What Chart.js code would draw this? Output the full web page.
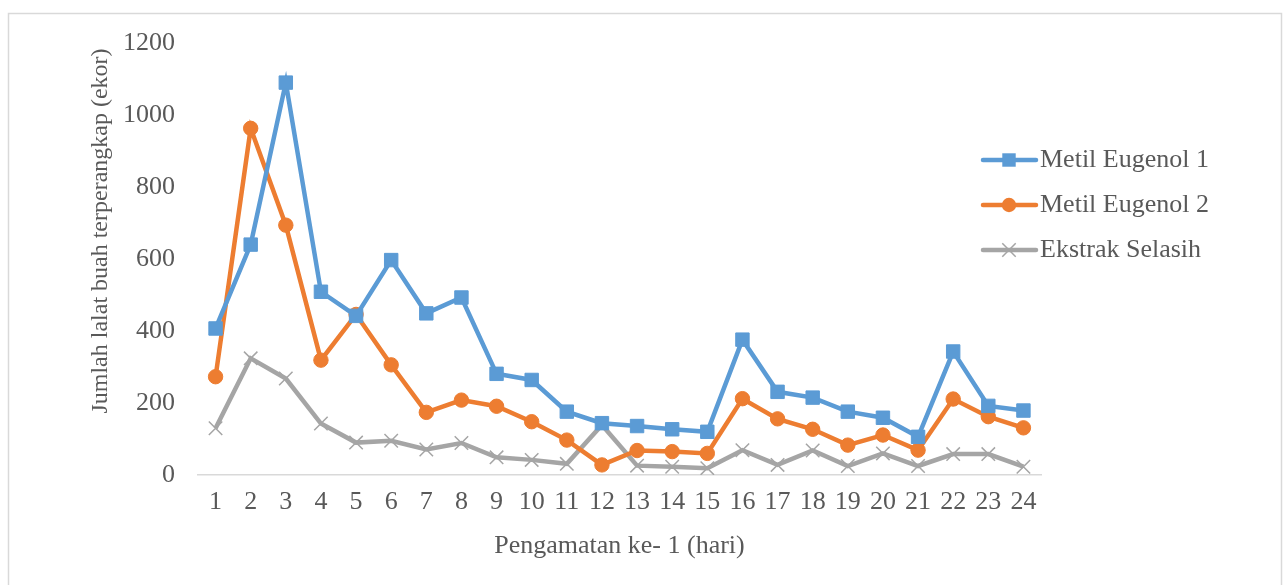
<!DOCTYPE html>
<html>
<head>
<meta charset="utf-8">
<script src="https://cdn.jsdelivr.net/npm/chart.js@4.4.1/dist/chart.umd.min.js"></script>
<style>
html,body{margin:0;padding:0;background:#fff;}
#wrap{width:1285px;height:585px;position:relative;}
</style>
</head>
<body>
<div id="wrap"><canvas id="c" width="1285" height="585"></canvas></div>
<script>
const categories = ['1','2','3','4','5','6','7','8','9','10','11','12','13','14','15','16','17','18','19','20','21','22','23','24'];
const metilEugenol1 = [407,640,1090,509,442,597,449,493,281,264,176,144,136,127,120,376,231,215,176,159,106,343,192,179];
const metilEugenol2 = [273,963,694,319,446,306,174,208,191,148,97,28,68,65,60,212,156,127,83,111,69,211,162,131];
const ekstrakSelasih = [130,324,268,143,90,95,71,89,49,42,31,139,26,23,19,69,28,68,25,60,25,58,58,23];
const yTicks = [0,200,400,600,800,1000,1200];
const seriesNames = ['Metil Eugenol 1','Metil Eugenol 2','Ekstrak Selasih'];
const xTitle = 'Pengamatan ke- 1 (hari)';
const yTitle = 'Jumlah lalat buah terperangkap (ekor)';

const FONT = 'Liberation Serif, "Times New Roman", serif';
const TXT = '#595959';

const borderPlugin = {
  id: 'outerBorder',
  beforeDraw(chart) {
    const ctx = chart.ctx;
    ctx.save();
    ctx.fillStyle = '#fff';
    ctx.fillRect(0,0,chart.width,chart.height);
    ctx.strokeStyle = '#d9d9d9';
    ctx.lineWidth = 1.5;
    ctx.strokeRect(8.5, 13.5, 1273, 600);
    ctx.restore();
  }
};

const yTitlePlugin = {
  id: 'yTitle',
  afterDraw(chart) {
    const ctx = chart.ctx;
    ctx.save();
    ctx.translate(101, 231);
    ctx.rotate(-Math.PI / 2);
    ctx.fillStyle = TXT;
    ctx.font = '24px ' + FONT;
    ctx.textAlign = 'center';
    ctx.textBaseline = 'middle';
    ctx.fillText(yTitle, 0, 0);
    ctx.restore();
  }
};

const legendPlugin = {
  id: 'customLegend',
  afterDraw(chart) {
    const ctx = chart.ctx;
    const ys = [160, 205, 250];
    ctx.save();
    chart.data.datasets.forEach((ds, i) => {
      const y = ys[i];
      ctx.strokeStyle = ds.borderColor;
      ctx.lineWidth = ds.borderWidth;
      ctx.lineCap = 'round';
      ctx.beginPath();
      ctx.moveTo(983, y);
      ctx.lineTo(1036, y);
      ctx.stroke();
      ctx.fillStyle = ds.pointBackgroundColor;
      ctx.strokeStyle = ds.pointBorderColor;
      ctx.lineWidth = ds.pointBorderWidth || 1;
      ctx.lineCap = 'butt';
      ctx.beginPath();
      if (ds.pointStyle === 'rect') {
        const s = Math.SQRT1_2 * ds.pointRadius;
        ctx.rect(1009 - s, y - s, 2*s, 2*s);
        ctx.fill();
      } else if (ds.pointStyle === 'circle') {
        ctx.arc(1009, y, ds.pointRadius, 0, Math.PI*2);
        ctx.fill();
      } else {
        const r = ds.pointRadius * Math.SQRT1_2;
        ctx.moveTo(1009-r, y-r); ctx.lineTo(1009+r, y+r);
        ctx.moveTo(1009+r, y-r); ctx.lineTo(1009-r, y+r);
        ctx.stroke();
      }
      ctx.fillStyle = TXT;
      ctx.font = '26px ' + FONT;
      ctx.textBaseline = 'middle';
      ctx.textAlign = 'left';
      ctx.fillText(ds.label, 1040, y);
    });
    ctx.restore();
  }
};

new Chart(document.getElementById('c'), {
  type: 'line',
  data: {
    labels: categories,
    datasets: [
      {
        label: seriesNames[0], data: metilEugenol1,
        borderColor: '#5b9bd5', backgroundColor: '#5b9bd5',
        pointBackgroundColor: '#5b9bd5', pointBorderColor: '#5b9bd5',
        borderWidth: 4.5, pointStyle: 'rect', pointRadius: 9.5, pointBorderWidth: 1,
        tension: 0
      },
      {
        label: seriesNames[1], data: metilEugenol2,
        borderColor: '#ed7d31', backgroundColor: '#ed7d31',
        pointBackgroundColor: '#ed7d31', pointBorderColor: '#ed7d31',
        borderWidth: 4.5, pointStyle: 'circle', pointRadius: 7.2, pointBorderWidth: 1,
        tension: 0
      },
      {
        label: seriesNames[2], data: ekstrakSelasih,
        borderColor: '#a5a5a5', backgroundColor: '#a5a5a5',
        pointBackgroundColor: '#a5a5a5', pointBorderColor: '#a5a5a5',
        borderWidth: 4.5, pointStyle: 'crossRot', pointRadius: 9.5, pointBorderWidth: 1.5,
        tension: 0
      }
    ]
  },
  options: {
    responsive: false,
    animation: false,
    devicePixelRatio: 1,
    layout: { padding: { left: 81, right: 244, top: 43, bottom: 19 } },
    plugins: { legend: { display: false }, tooltip: { enabled: false } },
    scales: {
      x: {
        offset: true,
        grid: { display: false, drawTicks: false },
        border: { display: true, color: '#d9d9d9', width: 1.5 },
        ticks: { color: TXT, font: { family: FONT, size: 26 }, padding: 12, maxRotation: 0, autoSkip: false },
        title: { display: true, text: xTitle, color: TXT, font: { family: FONT, size: 26 }, padding: { top: 4, bottom: 4 } },
        afterFit(scale) { scale.height = 91; }
      },
      y: {
        min: 0, max: 1200,
        afterBuildTicks(scale) { scale.ticks = yTicks.map(v => ({ value: v })); },
        grid: { display: false, drawTicks: false },
        border: { display: false },
        ticks: { color: TXT, font: { family: FONT, size: 26 }, padding: 23, callback: v => String(v) },
        title: { display: false, text: yTitle },
        afterFit(scale) { scale.width = 117; }
      }
    }
  },
  plugins: [borderPlugin, yTitlePlugin, legendPlugin]
});
</script>
</body>
</html>
